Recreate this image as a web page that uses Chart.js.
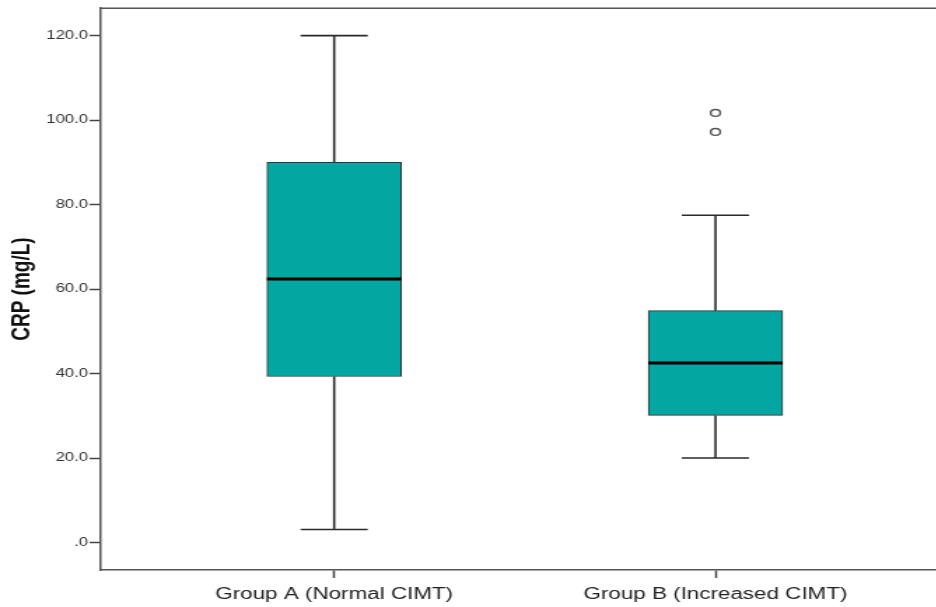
<!DOCTYPE html>
<html>
<head>
<meta charset="utf-8">
<script src="https://cdn.jsdelivr.net/npm/chart.js@4/dist/chart.umd.min.js"></script>
<style>
  html, body { margin: 0; padding: 0; background: #fff; overflow: hidden; width: 936px; height: 607px; }
  /* the original picture is squeezed sideways, so draw narrow and stretch */
  #wrap { width: 677px; height: 607px; transform: scaleX(1.4); transform-origin: 0 0; }
</style>
</head>
<body>
<div id="wrap"><canvas id="boxChart" width="677" height="607"></canvas></div>
<script>
const groups = ['Group A (Normal CIMT)', 'Group B (Increased CIMT)'];
const groupPos = [1, 2];
const whiskerLow = [3.1, 20.0];
const q1 = [39.3, 30.1];
const median = [62.4, 42.5];
const q3 = [90.0, 54.9];
const whiskerHigh = [120.0, 77.5];
const outlierGroup = [2, 2];
const outlierValues = [97.2, 101.7];

const yTicks = [0, 20, 40, 60, 80, 100, 120];
const yTickLabels = ['.0', '20.0', '40.0', '60.0', '80.0', '100.0', '120.0'];

const teal = '#03a6a1';
const ink = '#2b2b2b';

// whiskers, caps, medians and the top frame line
const boxExtras = {
  id: 'boxExtras',
  beforeDatasetsDraw(chart) {
    const { ctx, scales: { x, y } } = chart;
    const bars = chart.getDatasetMeta(0).data;
    ctx.save();
    ctx.strokeStyle = ink;
    ctx.lineWidth = 1.6;
    groupPos.forEach((g, i) => {
      const cx = x.getPixelForValue(g);
      const half = bars[i].width / 4;
      const lo = y.getPixelForValue(whiskerLow[i]);
      const hi = y.getPixelForValue(whiskerHigh[i]);
      ctx.beginPath();
      ctx.moveTo(cx, lo);
      ctx.lineTo(cx, y.getPixelForValue(q1[i]));
      ctx.moveTo(cx, y.getPixelForValue(q3[i]));
      ctx.lineTo(cx, hi);
      ctx.moveTo(cx - half, lo);
      ctx.lineTo(cx + half, lo);
      ctx.moveTo(cx - half, hi);
      ctx.lineTo(cx + half, hi);
      ctx.stroke();
    });
    ctx.restore();
  },
  afterDatasetsDraw(chart) {
    const { ctx, chartArea, scales: { y } } = chart;
    const bars = chart.getDatasetMeta(0).data;
    ctx.save();
    ctx.strokeStyle = '#000';
    ctx.lineWidth = 3;
    groupPos.forEach((g, i) => {
      const bar = bars[i];
      const my = y.getPixelForValue(median[i]);
      ctx.beginPath();
      ctx.moveTo(bar.x - bar.width / 2, my);
      ctx.lineTo(bar.x + bar.width / 2, my);
      ctx.stroke();
    });
    ctx.strokeStyle = '#555';
    ctx.lineWidth = 1.5;
    ctx.beginPath();
    ctx.moveTo(chartArea.left, chartArea.top);
    ctx.lineTo(chartArea.right + 20, chartArea.top);
    ctx.stroke();
    ctx.restore();
  }
};

new Chart(document.getElementById('boxChart'), {
  type: 'bar',
  data: {
    datasets: [{
      data: groupPos.map((g, i) => ({ x: g, y: [q1[i], q3[i]] })),
      backgroundColor: teal,
      borderColor: '#333',
      borderWidth: 1,
      borderSkipped: false,
      barThickness: 96,
      grouped: false
    }, {
      type: 'scatter',
      data: outlierGroup.map((g, i) => ({ x: g, y: outlierValues[i] })),
      pointRadius: 3.4,
      pointBorderWidth: 1.4,
      pointBorderColor: '#555',
      pointBackgroundColor: '#fff'
    }]
  },
  options: {
    responsive: false,
    animation: false,
    devicePixelRatio: 1,
    layout: { padding: { top: 7, left: 0, right: 0, bottom: 0 } },
    plugins: {
      legend: { display: false },
      tooltip: { enabled: false }
    },
    scales: {
      x: {
        type: 'linear',
        min: 0.388,
        max: 2.5895,
        offset: false,
        afterBuildTicks(scale) {
          scale.ticks = groupPos.map(v => ({ value: v }));
        },
        afterFit(scale) {
          scale.height = 37;
        },
        ticks: {
          callback: (v) => groups[groupPos.indexOf(v)],
          color: '#222',
          padding: 7,
          maxRotation: 0,
          autoSkip: false,
          font: { family: 'Liberation Sans, Arial, sans-serif', size: 16 }
        },
        grid: {
          drawOnChartArea: false,
          drawTicks: true,
          tickLength: 8,
          tickWidth: 1.5,
          tickColor: '#444',
          offset: false
        },
        border: { display: true, color: '#555', width: 1.5 }
      },
      y: {
        min: -6.5,
        max: 126.5,
        afterBuildTicks(scale) {
          scale.ticks = yTicks.map(v => ({ value: v }));
        },
        afterFit(scale) {
          scale.width = 72;
        },
        ticks: {
          callback: (v) => yTickLabels[yTicks.indexOf(v)],
          color: '#333',
          padding: 1,
          font: { family: 'Liberation Sans, Arial, sans-serif', size: 12 }
        },
        grid: {
          drawOnChartArea: false,
          drawTicks: true,
          tickLength: 8,
          tickWidth: 1.5,
          tickColor: '#444'
        },
        border: { display: true, color: '#555', width: 1.5 },
        title: {
          display: true,
          text: 'CRP (mg/L)',
          color: '#111',
          padding: { top: 4, bottom: 0 },
          font: { family: 'Liberation Sans, Arial, sans-serif', size: 19, weight: 'bold' }
        }
      }
    }
  },
  plugins: [boxExtras]
});
</script>
</body>
</html>
